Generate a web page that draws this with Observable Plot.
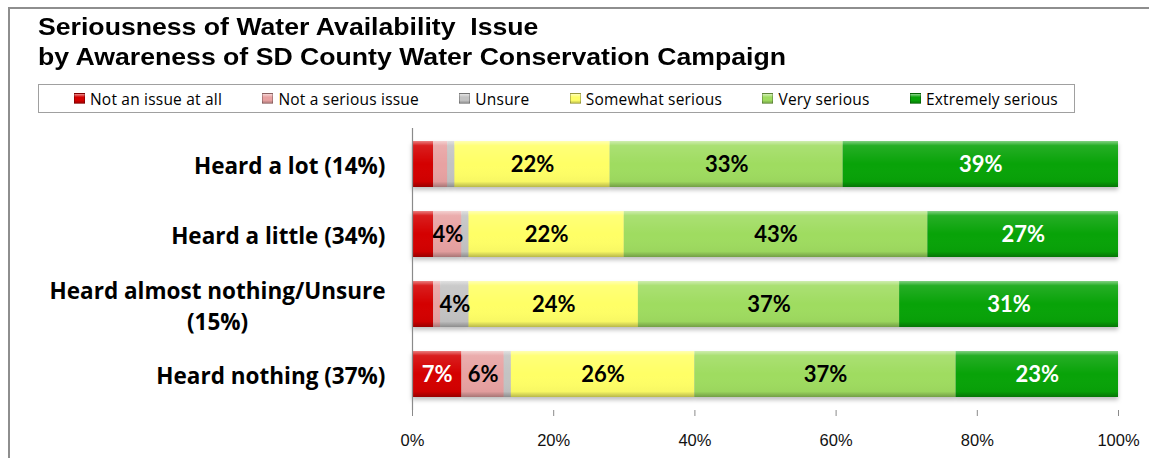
<!DOCTYPE html>
<html>
<head>
<meta charset="utf-8">
<script src="https://cdn.jsdelivr.net/npm/d3@7"></script>
<script src="https://cdn.jsdelivr.net/npm/@observablehq/plot@0.6"></script>
<style>
  body { margin: 0; background: #fff; width: 1149px; height: 458px; overflow: hidden; position: relative; }
  #frame { position: absolute; left: 8px; top: 7px; width: 1200px; height: 500px; border-top: 2px solid #8e8e8e; border-left: 2px solid #8e8e8e; }
  #header { position: relative; height: 118px; }
  #title { position: absolute; left: 38px; top: 12px; font: bold 24px "Liberation Sans", Arial, sans-serif; line-height: 30px; color: #000; white-space: nowrap; transform: scaleX(1.11); transform-origin: 0 0; }
  #legend { position: absolute; left: 38px; top: 84px; width: 1037px; height: 29px; box-sizing: border-box; border: 1.5px solid #a0a0a0; display: flex; align-items: center; justify-content: space-between; padding-left: 35px; padding-right: 16px; font: 15.5px "Open Sans", sans-serif; letter-spacing: 0.2px; color: #000; white-space: nowrap; }
  .item { display: flex; align-items: center; gap: 5px; }
  .sw { width: 11px; height: 11px; box-sizing: border-box; }
  #chart { position: relative; }
</style>
</head>
<body>
<div id="frame"></div>
<div id="header">
  <div id="title">Seriousness of Water Availability&nbsp; Issue<br>by Awareness of SD County Water Conservation Campaign</div>
  <div id="legend"></div>
</div>
<div id="chart"></div>
<script>
// ---- data ----
const groups = ["Heard a lot (14%)", "Heard a little (34%)", "Heard almost nothing/Unsure (15%)", "Heard nothing (37%)"];
const groupLabels = ["Heard a lot (14%)", "Heard a little (34%)", "Heard almost nothing/Unsure\n(15%)", "Heard nothing (37%)"];
const series = ["Not an issue at all", "Not a serious issue", "Unsure", "Somewhat serious", "Very serious", "Extremely serious"];
const notAnIssue = [3, 3, 3, 7];
const notSerious = [2, 4, 1, 6];
const unsure = [1, 1, 4, 1];
const somewhat = [22, 22, 24, 26];
const verySerious = [33, 43, 37, 37];
const extremely = [39, 27, 31, 23];
const colors = ["#d40000", "#e8a2a2", "#c3c3c3", "#ffff66", "#9fdc60", "#08a308"];
const labelColors = ["#fff", "#000", "#000", "#000", "#000", "#fff"];
const xTicks = [0, 20, 40, 60, 80, 100];
const minLabel = 4;

const valuesBySeries = [notAnIssue, notSerious, unsure, somewhat, verySerious, extremely];
const rows = [];
groups.forEach((g, gi) => {
  series.forEach((s, si) => {
    rows.push({group: g, series: s, value: valuesBySeries[si][gi], si});
  });
});
// midpoints for labels
const mids = [];
groups.forEach((g, gi) => {
  let acc = 0;
  series.forEach((s, si) => {
    const v = valuesBySeries[si][gi];
    mids.push({group: g, series: s, value: v, mid: acc + v / 2, si});
    acc += v;
  });
});

// ---- legend ----
const legend = document.getElementById("legend");
series.forEach((s, i) => {
  const it = document.createElement("div");
  it.className = "item";
  const sw = document.createElement("div");
  sw.className = "sw";
  sw.style.background = `linear-gradient(180deg, rgba(255,255,255,0.55) 0%, ${colors[i]} 35%, ${colors[i]} 70%, rgba(0,0,0,0.25) 100%), ${colors[i]}`;
  sw.style.border = "1px solid rgba(0,0,0,0.25)";
  const t = document.createElement("span");
  t.textContent = s;
  it.append(sw, t);
  legend.append(it);
});

// ---- chart ----
const labelMap = new Map(groups.map((g, i) => [g, groupLabels[i]]));
const chart = Plot.plot({
  width: 1149,
  height: 340,
  marginLeft: 412,
  marginRight: 31,
  marginTop: 10,
  marginBottom: 48,
  style: {background: "transparent", overflow: "visible"},
  x: {domain: [0, 100], axis: null},
  y: {domain: groups, paddingInner: 0.34, paddingOuter: 0.17, axis: null},
  color: {domain: series, range: colors},
  marks: [
    Plot.barX(rows, Plot.stackX({x: "value", y: "group", fill: "series", order: null})),
    Plot.barX(rows, Plot.stackX({x: "value", y: "group", fill: () => "url(#bevel)", order: null})),
    Plot.ruleX([0], {stroke: "#8a8a8a", strokeWidth: 1.2}),
    Plot.axisX({ticks: xTicks, tickFormat: d => d + "%", tickSize: 6, tickPadding: 18, fontSize: 16.5, fontFamily: "Liberation Sans, Arial, sans-serif", stroke: "#8a8a8a", color: "#111"}),
    Plot.ruleY([0], {frameAnchor: "bottom", stroke: "#8a8a8a", strokeWidth: 1.2}),
    Plot.text(groups, {y: d => d, text: d => labelMap.get(d), frameAnchor: "left", textAnchor: "end", dx: -27, fontSize: 22.5, fontWeight: "bold", fontFamily: "Open Sans, sans-serif", lineHeight: 1.38, fill: "#000"}),
    Plot.text(mids, {x: "mid", y: "group", text: d => d.value >= minLabel ? d.value + "%" : "", fill: d => labelColors[d.si], fontSize: 22, fontWeight: "bold", fontFamily: "Lato, sans-serif"})
  ]
});
document.getElementById("chart").append(chart);

// bevel gradient
const svg = d3.select(chart);
const defs = svg.insert("defs", ":first-child");
const grad = defs.append("linearGradient").attr("id", "bevel").attr("x1", 0).attr("y1", 0).attr("x2", 0).attr("y2", 1);
[[0, "#fff", 0.5], [0.1, "#fff", 0.12], [0.5, "#fff", 0], [0.88, "#000", 0.03], [1, "#000", 0.28]].forEach(([o, c, a]) => {
  grad.append("stop").attr("offset", o).attr("stop-color", c).attr("stop-opacity", a);
});
svg.selectAll("g[aria-label='bar']").filter((d, i) => i === 0).style("filter", "drop-shadow(0px 3px 2px rgba(0,0,0,0.25))");

// center lines of multi-line category label
svg.selectAll("g[aria-label='text'] text").each(function() {
  const tspans = this.querySelectorAll("tspan");
  if (tspans.length > 1) {
    let maxW = 0;
    tspans.forEach(t => { maxW = Math.max(maxW, t.getComputedTextLength()); });
    this.setAttribute("text-anchor", "middle");
    tspans.forEach(t => t.setAttribute("x", -maxW / 2));
  }
});
</script>
</body>
</html>
